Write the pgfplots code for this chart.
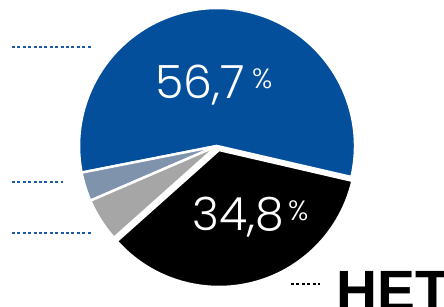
\documentclass[border=0pt]{standalone}
\usepackage{pgfplots}
\pgfplotsset{compat=1.18}
\usepackage{pgfplotstable}
\usepackage{fontspec}
\setmainfont{Liberation Sans}
\newfontfamily\lightfont{Poppins}[UprightFont=* Light]
\definecolor{cblue}{HTML}{034F9B}
\definecolor{clight}{HTML}{7F93AD}
\definecolor{cgray}{HTML}{A6A6A6}
\definecolor{cdot}{HTML}{1B5BA6}

\pgfplotstableread{
name value
Da 56.7
Light 3.4
Gray 5.1
Net 34.8
}\piedata
\pgfmathsetmacro\aZero{-13}
\pgfplotstablegetelem{0}{value}\of\piedata \pgfmathsetmacro\aOne{\aZero+3.6*\pgfplotsretval}
\pgfplotstablegetelem{1}{value}\of\piedata \pgfmathsetmacro\aTwo{\aOne+3.6*\pgfplotsretval}
\pgfplotstablegetelem{2}{value}\of\piedata \pgfmathsetmacro\aThree{\aTwo+3.6*\pgfplotsretval}
\pgfplotstablegetelem{3}{value}\of\piedata \pgfmathsetmacro\aFour{\aThree+3.6*\pgfplotsretval}

\begin{document}
\begin{tikzpicture}
\useasboundingbox (0,0) rectangle (444bp,307bp);
\begin{axis}[
  at={(0,0)}, anchor=origin,
  x=1bp, y=1bp, xmin=0, xmax=444, ymin=0, ymax=307,
  hide axis, clip=false]
% slices
\fill[cblue, draw=white, line width=2.5bp, line join=round]
  (axis cs:217,161) -- ++(\aZero:138bp) arc[start angle=\aZero, end angle=\aOne, radius=138bp] -- cycle;
\fill[clight, draw=white, line width=2.5bp, line join=round]
  (axis cs:217,161) -- ++(\aOne:138bp) arc[start angle=\aOne, end angle=\aTwo, radius=138bp] -- cycle;
\fill[cgray, draw=white, line width=2.5bp, line join=round]
  (axis cs:217,161) -- ++(\aTwo:138bp) arc[start angle=\aTwo, end angle=\aThree, radius=138bp] -- cycle;
\fill[black, draw=white, line width=2.5bp, line join=round]
  (axis cs:219,157) -- ++(\aThree:137bp) arc[start angle=\aThree, end angle=\aFour, radius=137bp] -- cycle;
% labels
\node[anchor=base west, inner sep=0, text=white, font=\lightfont\fontsize{46}{46}\selectfont] at (axis cs:155,209) {56,7};
\node[anchor=north west, inner sep=0, text=white, font=\lightfont\fontsize{28}{28}\selectfont] at (axis cs:252,239) {\%};
\node[anchor=base west, inner sep=0, text=white, font=\lightfont\fontsize{46}{46}\selectfont] at (axis cs:192,77) {34,8};
\node[anchor=north west, inner sep=0, text=white, font=\lightfont\fontsize{28}{28}\selectfont] at (axis cs:288,107) {\%};
% leaders
\draw[cdot, line width=2bp, dash pattern=on 3bp off 2.4bp] (axis cs:12,260) -- (axis cs:92,260);
\draw[cdot, line width=2bp, dash pattern=on 3bp off 2.4bp] (axis cs:12,125) -- (axis cs:63,125);
\draw[cdot, line width=2bp, dash pattern=on 3bp off 2.4bp] (axis cs:12,74) -- (axis cs:92,74);
\draw[black, line width=2bp, dash pattern=on 3bp off 2.4bp] (axis cs:291,23) -- (axis cs:320,23);
\node[anchor=base west, inner sep=0, font=\bfseries\fontsize{57}{57}\selectfont] at (axis cs:336,-3) {НЕТ};
\end{axis}
\end{tikzpicture}
\end{document}
